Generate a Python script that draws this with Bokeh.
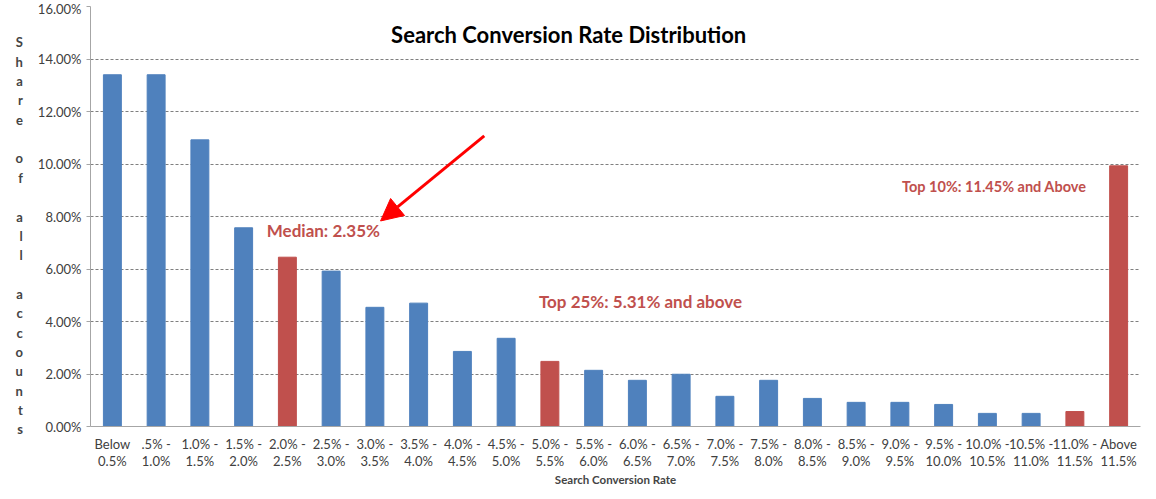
from bokeh.plotting import figure
from bokeh.models import ColumnDataSource, FactorRange, Range1d, NumeralTickFormatter, Label, Arrow, NormalHead
from bokeh.embed import file_html
from bokeh.resources import INLINE

# bins of search conversion rate
categories = ["Below\n0.5%", ".5% -\n1.0%", "1.0% -\n1.5%", "1.5% -\n2.0%", "2.0% -\n2.5%",
              "2.5% -\n3.0%", "3.0% -\n3.5%", "3.5% -\n4.0%", "4.0% -\n4.5%", "4.5% -\n5.0%",
              "5.0% -\n5.5%", "5.5% -\n6.0%", "6.0% -\n6.5%", "6.5% -\n7.0%", "7.0% -\n7.5%",
              "7.5% -\n8.0%", "8.0% -\n8.5%", "8.5% -\n9.0%", "9.0% -\n9.5%", "9.5% -\n10.0%",
              "10.0% -\n10.5%", "10.5% -\n11.0%", "11.0% -\n11.5%", "Above\n11.5%"]
share = [0.134, 0.134, 0.1092, 0.0757, 0.0645, 0.0592, 0.0454, 0.0470, 0.0286, 0.0336,
         0.0248, 0.0214, 0.0176, 0.0199, 0.0115, 0.0176, 0.0107, 0.0092, 0.0092, 0.0084,
         0.0050, 0.0050, 0.0057, 0.0993]
highlight = [False, False, False, False, True, False, False, False, False, False,
             True, False, False, False, False, False, False, False, False, False,
             False, False, True, True]

BLUE = "#4F81BD"
RED = "#C0504D"
FONT = "Lato"

colors = [RED if h else BLUE for h in highlight]
source = ColumnDataSource(data=dict(cat=categories, share=share, color=colors))

p = figure(x_range=FactorRange(*categories), y_range=Range1d(0, 0.16),
           width=1142, height=489, output_backend="svg", toolbar_location=None,
           min_border_left=0, min_border_right=2, min_border_top=6, min_border_bottom=0)

p.vbar(x="cat", top="share", width=0.41, source=source, fill_color="color", line_color="color")

p.x_range.range_padding = 0
p.outline_line_color = None
p.xgrid.grid_line_color = None
p.ygrid.grid_line_color = "#7f7f7f"
p.ygrid.grid_line_dash = "3 2"

p.yaxis.formatter = NumeralTickFormatter(format="0.00%")
p.yaxis.ticker = [0, 0.02, 0.04, 0.06, 0.08, 0.10, 0.12, 0.14, 0.16]
p.yaxis.minor_tick_line_color = None
p.yaxis.major_tick_in = 0
p.yaxis.major_tick_out = 4
p.xaxis.major_tick_in = 0
p.xaxis.major_tick_out = 0

for ax in (p.xaxis, p.yaxis):
    ax.axis_line_color = "#a6a6a6"
    ax.major_tick_line_color = "#a6a6a6"
    ax.major_label_text_font = FONT
    ax.major_label_text_font_size = "13px"
    ax.major_label_text_color = "#404040"

p.xaxis.major_label_standoff = 9
p.xaxis.major_label_text_line_height = 1.1
p.xaxis.axis_label = "Search Conversion Rate"
p.xaxis.axis_label_text_font = FONT
p.xaxis.axis_label_text_font_style = "bold"
p.xaxis.axis_label_text_font_size = "11.5px"
p.xaxis.axis_label_standoff = 1

# stacked letters; the padded top lines push the column down and widen its box
p.yaxis.axis_label = "\n".join(["\u00a0" * 6, "\u00a0"] + list("Share of all accounts"))
p.yaxis.axis_label_orientation = "horizontal"
p.yaxis.axis_label_text_font = FONT
p.yaxis.axis_label_text_font_style = "bold"
p.yaxis.axis_label_text_font_size = "13px"
p.yaxis.axis_label_text_line_height = 1.21
p.yaxis.axis_label_text_align = "center"
p.yaxis.axis_label_standoff = 12

p.add_layout(Label(x=10.93, y=0.1493, text="Search Conversion Rate Distribution",
                   text_font=FONT, text_font_style="bold", text_font_size="22px",
                   text_color="black", text_align="center", text_baseline="middle"))

p.add_layout(Label(x=4.03, y=0.0748, text="Median: 2.35%", text_font=FONT,
                   text_font_style="bold", text_font_size="17px", text_color=RED,
                   text_baseline="middle"))
p.add_layout(Label(x=10.25, y=0.0477, text="Top 25%: 5.31% and above", text_font=FONT,
                   text_font_style="bold", text_font_size="17px", text_color=RED,
                   text_baseline="middle"))
p.add_layout(Label(x=18.55, y=0.0913, text="Top 10%: 11.45% and Above", text_font=FONT,
                   text_font_style="bold", text_font_size="14.5px", text_color=RED,
                   text_baseline="middle"))

p.add_layout(Arrow(x_start=9.0, y_start=0.1107, x_end=6.63, y_end=0.0783,
                   line_color="#ff0000", line_width=3,
                   end=NormalHead(size=22, fill_color="#ff0000", line_color="#ff0000")))

open("out.html", "w").write(file_html(p, INLINE))
